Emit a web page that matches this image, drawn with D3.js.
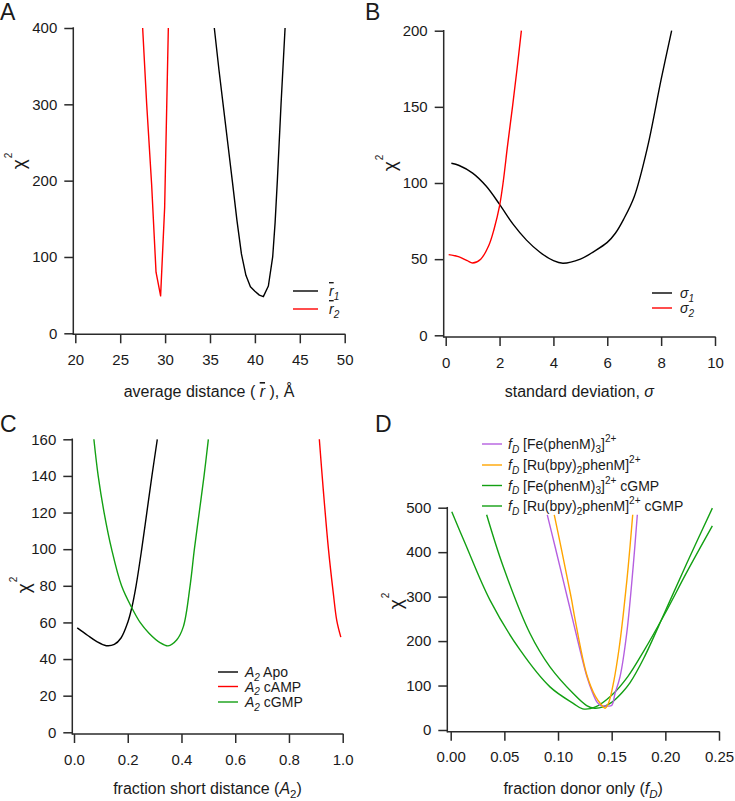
<!DOCTYPE html>
<html><head><meta charset="utf-8">
<script src="https://cdn.jsdelivr.net/npm/d3@7"></script>
<style>
body{margin:0;background:#fff}
text{font-family:Arial,"Liberation Sans",sans-serif;fill:#1a1a1a}
</style>
</head><body><svg id="c" width="735" height="801"></svg>
<script>
// ---------- Panel A : chi2 vs average distance ----------
const aR1X = [35.48, 36.0, 36.5, 37.0, 37.5, 38.0, 38.5, 39.0, 39.5, 40.0, 40.5, 40.94, 41.5, 41.98, 42.25, 42.5, 42.91, 43.36];
const aR1Y = [400, 345, 296, 247, 198, 148, 104, 76, 61, 55, 50, 48, 62, 100, 145, 200, 300, 400];
const aR2X = [27.5, 27.95, 28.5, 28.99, 29.5, 29.95, 30.36];
const aR2Y = [400, 300, 195, 80, 49, 165, 400];
const aXTicks = [20, 25, 30, 35, 40, 45, 50];
const aYTicks = [0, 100, 200, 300, 400];

// ---------- Panel B : chi2 vs standard deviation ----------
const bS1X = [0.21, 0.5, 1, 1.5, 2, 2.5, 3, 3.5, 4, 4.35, 5, 5.5, 6, 6.3, 6.6, 7, 7.5, 8, 8.39];
const bS1Y = [113, 111.5, 106.5, 98, 86, 73, 62.5, 54.5, 49, 47.3, 50, 55, 61, 67, 76, 91, 124, 168, 200];
const bS2X = [0.11, 0.5, 0.8, 1.0, 1.3, 1.6, 1.8, 2.0, 2.13, 2.3, 2.48, 2.65, 2.81];
const bS2Y = [53, 51.5, 49, 47.5, 50, 59, 70, 85, 100, 125, 150, 175, 200];
const bXTicks = [0, 2, 4, 6, 8, 10];
const bYTicks = [0, 50, 100, 150, 200];

// ---------- Panel C : chi2 vs fraction short distance ----------
const cApoX = [0.012, 0.05, 0.085, 0.12, 0.15, 0.175, 0.2, 0.215, 0.231, 0.252, 0.271, 0.29, 0.31];
const cApoY = [57, 53, 49.5, 47.3, 48, 51.5, 60, 68, 80, 100, 120, 140, 160];
const cAmpX = [0.913, 0.928, 0.947, 0.965, 0.978, 0.993];
const cAmpY = [160, 132, 100, 76, 61, 52];
const cGmpX = [0.074, 0.09, 0.112, 0.14, 0.177, 0.215, 0.246, 0.28, 0.32, 0.35, 0.382, 0.407, 0.432, 0.448, 0.466, 0.484, 0.5];
const cGmpY = [160, 140, 120, 100, 80, 68, 60, 54, 49, 47.2, 50.4, 57.7, 80, 100, 120, 140, 160];
const cXTicks = [0, 0.2, 0.4, 0.6, 0.8, 1.0];
const cYTicks = [0, 20, 40, 60, 80, 100, 120, 140, 160];

// ---------- Panel D : chi2 vs fraction donor only ----------
const dFeX = [0.09, 0.0975, 0.105, 0.1125, 0.12, 0.1267, 0.132, 0.1365, 0.14, 0.145, 0.15, 0.1531, 0.1578, 0.164, 0.17, 0.1739];
const dFeY = [484, 410, 335, 260, 185, 122, 85, 62, 55, 54, 55, 82, 120, 217, 367, 484];
const dRuX = [0.0965, 0.1034, 0.1096, 0.1127, 0.1158, 0.1267, 0.135, 0.14, 0.1438, 0.147, 0.152, 0.157, 0.1608, 0.1655, 0.1696];
const dRuY = [484, 404, 330, 292, 250, 125, 75, 58, 49, 60, 110, 185, 260, 370, 484];
const dFeGX = [0.001, 0.0134, 0.0366, 0.0646, 0.0925, 0.1142, 0.123, 0.135, 0.15, 0.165, 0.18, 0.1997, 0.22, 0.2438];
const dFeGY = [491, 420, 292, 180, 97, 60, 47.5, 52, 78, 120, 178, 262, 355, 459];
const dRuGX = [0.0335, 0.049, 0.0739, 0.0925, 0.1142, 0.1267, 0.134, 0.142, 0.15, 0.16, 0.167, 0.18, 0.1997, 0.22, 0.2438];
const dRuGY = [484, 367, 217, 142, 82, 55, 49, 52, 62, 85, 106, 162, 266, 375, 499];
const dXTicks = [0, 0.05, 0.10, 0.15, 0.20, 0.25];
const dYTicks = [0, 100, 200, 300, 400, 500];

const RED = "#ff0000", BLACK = "#000000", GREEN = "#13a013", PURPLE = "#b55fe0", ORANGE = "#ffa500";
const AXC = "#2a2a2a";

const svg = d3.select("#c");

function zip(xs, ys) { return xs.map((v, i) => [v, ys[i]]); }

// rich text: parts = [{t, i(talic), sub, sup, ov(erline)}]
function rich(sel, parts, size) {
  let shift = 0;
  parts.forEach(p => {
    const ts = sel.append("tspan").text(p.t);
    let target = 0, fs = size;
    if (p.sub) { target = size * 0.25; fs = size * 0.72; }
    if (p.sup) { target = -size * 0.48; fs = size * 0.72; }
    ts.attr("dy", target - shift).attr("font-size", fs);
    shift = target;
    if (p.i) ts.attr("font-style", "italic");
    if (p.ov) ts.style("text-decoration", "overline");
  });
}

function panel(o) {
  const x = d3.scaleLinear().domain(o.xDom).range(o.xRange);
  const y = d3.scaleLinear().domain(o.yDom).range(o.yRange);
  const g = svg.append("g");

  const cid = "clip" + o.letter;
  svg.append("clipPath").attr("id", cid).append("rect")
    .attr("x", o.yAxisX).attr("y", o.yRange[1] - 1)
    .attr("width", o.xRange[1] - o.yAxisX + 2).attr("height", o.xAxisY - o.yRange[1] + 1);

  // x axis
  const gx = g.append("g").attr("transform", `translate(0,${o.xAxisY})`)
    .call(d3.axisBottom(x).tickValues(o.xTicks).tickFormat(o.xFmt).tickSize(9).tickPadding(11).tickSizeOuter(0));
  gx.select(".domain").remove();
  gx.selectAll(".tick line").attr("stroke", AXC).attr("stroke-width", 1.5);
  gx.selectAll(".tick text").attr("font-size", 15).attr("fill", "#1a1a1a")
    .attr("font-family", "Arial, 'Liberation Sans', sans-serif");
  g.append("line").attr("x1", o.yAxisX).attr("x2", o.xRange[1] + 0.75)
    .attr("y1", o.xAxisY).attr("y2", o.xAxisY).attr("stroke", AXC).attr("stroke-width", 1.5);

  // y axis
  const gy = g.append("g").attr("transform", `translate(${o.yAxisX},0)`)
    .call(d3.axisLeft(y).tickValues(o.yTicks).tickFormat(o.yFmt).tickSize(9).tickPadding(7).tickSizeOuter(0));
  gy.select(".domain").remove();
  gy.selectAll(".tick line").attr("stroke", AXC).attr("stroke-width", 1.5);
  gy.selectAll(".tick text").attr("font-size", 15).attr("fill", "#1a1a1a")
    .attr("font-family", "Arial, 'Liberation Sans', sans-serif");
  g.append("line").attr("x1", o.yAxisX).attr("x2", o.yAxisX)
    .attr("y1", o.xAxisY + 0.75).attr("y2", o.yRange[1] - 0.75).attr("stroke", AXC).attr("stroke-width", 1.5);

  // series
  const ps = g.append("g").attr("clip-path", `url(#${cid})`);
  o.series.forEach(s => {
    const line = d3.line().x(d => x(d[0])).y(d => y(d[1]))
      .curve(s.linear ? d3.curveLinear : d3.curveCatmullRom.alpha(0.5));
    ps.append("path").attr("d", line(zip(s.x, s.y))).attr("fill", "none")
      .attr("stroke", s.color).attr("stroke-width", 1.4).attr("stroke-linejoin", "round");
  });

  // panel letter
  svg.append("text").attr("x", o.letterPos[0]).attr("y", o.letterPos[1])
    .attr("font-size", 23).text(o.letter);

  // y title chi^2
  const yt = svg.append("text").attr("text-anchor", "middle")
    .attr("transform", `translate(${o.yTitlePos[0]},${o.yTitlePos[1]}) rotate(-90)`);
  yt.append("tspan").attr("font-size", 19).text("χ");
  yt.append("tspan").attr("font-size", 10).attr("dy", -13).attr("dx", 1).text("2");

  // x title
  const xt = svg.append("text").attr("text-anchor", "middle")
    .attr("x", (o.yAxisX + o.xRange[1]) / 2).attr("y", o.xTitleY).attr("font-size", 16);
  rich(xt, o.xTitle, 16);

  // legend
  o.legend.items.forEach((it, i) => {
    const ly = o.legend.y[i];
    svg.append("line").attr("x1", o.legend.x0).attr("x2", o.legend.x1)
      .attr("y1", ly).attr("y2", ly).attr("stroke", it.color).attr("stroke-width", 1.4);
    const t = svg.append("text").attr("x", o.legend.tx).attr("y", ly + 5).attr("font-size", 14);
    rich(t, it.parts, 14);
  });
}

const f0 = d3.format("d");

panel({
  letter: "A", letterPos: [0, 20],
  xDom: [20, 50], xRange: [75.3, 344.7], yDom: [0, 400], yRange: [333.3, 28],
  xAxisY: 334.3, yAxisX: 73.3, xTicks: aXTicks, yTicks: aYTicks, xFmt: f0, yFmt: f0,
  series: [{x: aR1X, y: aR1Y, color: BLACK, linear: true}, {x: aR2X, y: aR2Y, color: RED, linear: true}],
  yTitlePos: [25, 161], xTitleY: 397,
  xTitle: [{t: "average distance ( "}, {t: "r", i: true, ov: true}, {t: " ), Å"}],
  legend: {x0: 293, x1: 318, tx: 329, y: [291, 309], items: [
    {color: BLACK, parts: [{t: "r", i: true, ov: true}, {t: "1", i: true, sub: true}]},
    {color: RED, parts: [{t: "r", i: true, ov: true}, {t: "2", i: true, sub: true}]}]}
});

panel({
  letter: "B", letterPos: [365, 20],
  xDom: [0, 10], xRange: [445.7, 715], yDom: [0, 200], yRange: [335.3, 30.7],
  xAxisY: 337, yAxisX: 443.7, xTicks: bXTicks, yTicks: bYTicks, xFmt: f0, yFmt: f0,
  series: [{x: bS1X, y: bS1Y, color: BLACK}, {x: bS2X, y: bS2Y, color: RED}],
  yTitlePos: [396, 163], xTitleY: 397,
  xTitle: [{t: "standard deviation, "}, {t: "σ", i: true}],
  legend: {x0: 652, x1: 672, tx: 680, y: [293, 308], items: [
    {color: BLACK, parts: [{t: "σ", i: true}, {t: "1", i: true, sub: true}]},
    {color: RED, parts: [{t: "σ", i: true}, {t: "2", i: true, sub: true}]}]}
});

panel({
  letter: "C", letterPos: [0, 432],
  xDom: [0, 1], xRange: [74, 342.7], yDom: [0, 160], yRange: [732.3, 439.3],
  xAxisY: 734, yAxisX: 72.3, xTicks: cXTicks, yTicks: cYTicks, xFmt: d3.format(".1f"), yFmt: f0,
  series: [{x: cApoX, y: cApoY, color: BLACK}, {x: cAmpX, y: cAmpY, color: RED}, {x: cGmpX, y: cGmpY, color: GREEN}],
  yTitlePos: [30, 585], xTitleY: 794,
  xTitle: [{t: "fraction short distance ("}, {t: "A", i: true}, {t: "2", sub: true}, {t: ")"}],
  legend: {x0: 218, x1: 238, tx: 245, y: [672, 686.5, 702], items: [
    {color: BLACK, parts: [{t: "A", i: true}, {t: "2", i: true, sub: true}, {t: " Apo"}]},
    {color: RED, parts: [{t: "A", i: true}, {t: "2", i: true, sub: true}, {t: " cAMP"}]},
    {color: GREEN, parts: [{t: "A", i: true}, {t: "2", i: true, sub: true}, {t: " cGMP"}]}]}
});

panel({
  letter: "D", letterPos: [375, 432],
  xDom: [0, 0.25], xRange: [450.7, 719], yDom: [0, 500], yRange: [730, 507.7],
  xAxisY: 731.7, yAxisX: 447.3, xTicks: dXTicks, yTicks: dYTicks, xFmt: d3.format(".2f"), yFmt: f0,
  series: [{x: dFeGX, y: dFeGY, color: GREEN}, {x: dRuGX, y: dRuGY, color: GREEN},
           {x: dFeX, y: dFeY, color: PURPLE}, {x: dRuX, y: dRuY, color: ORANGE}],
  yTitlePos: [402, 601], xTitleY: 794,
  xTitle: [{t: "fraction donor only ("}, {t: "f", i: true}, {t: "D", i: true, sub: true}, {t: ")"}],
  legend: {x0: 482, x1: 502, tx: 508, y: [444, 465, 485.5, 506], items: [
    {color: PURPLE, parts: [{t: "f", i: true}, {t: "D", i: true, sub: true}, {t: " [Fe(phenM)"}, {t: "3", sub: true}, {t: "]"}, {t: "2+", sup: true}]},
    {color: ORANGE, parts: [{t: "f", i: true}, {t: "D", i: true, sub: true}, {t: " [Ru(bpy)"}, {t: "2", sub: true}, {t: "phenM]"}, {t: "2+", sup: true}]},
    {color: GREEN, parts: [{t: "f", i: true}, {t: "D", i: true, sub: true}, {t: " [Fe(phenM)"}, {t: "3", sub: true}, {t: "]"}, {t: "2+", sup: true}, {t: " cGMP"}]},
    {color: GREEN, parts: [{t: "f", i: true}, {t: "D", i: true, sub: true}, {t: " [Ru(bpy)"}, {t: "2", sub: true}, {t: "phenM]"}, {t: "2+", sup: true}, {t: " cGMP"}]}]}
});
</script>
</body></html>
